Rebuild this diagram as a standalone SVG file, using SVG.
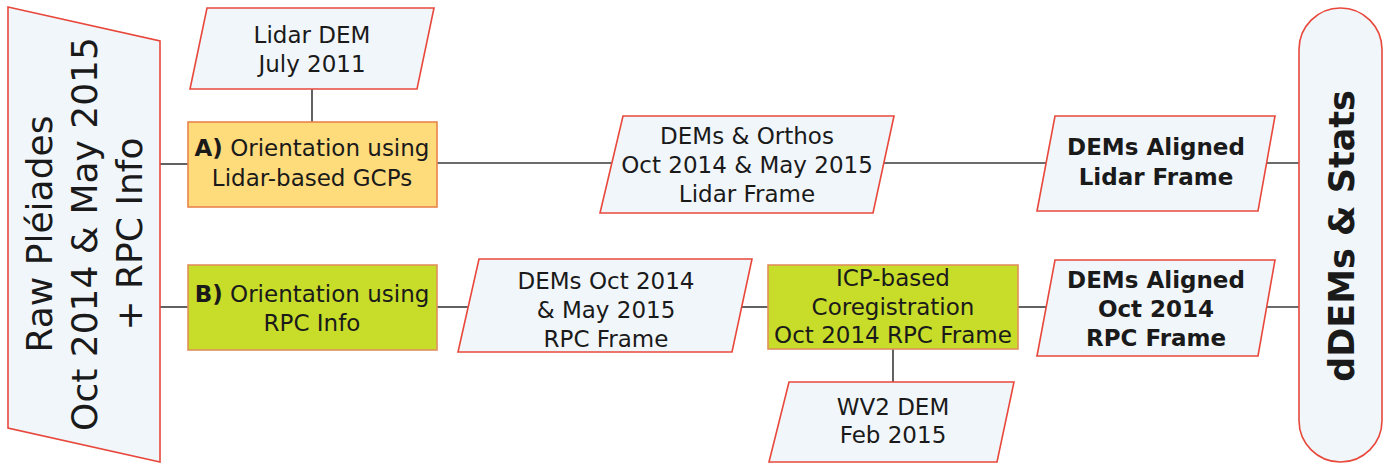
<svg xmlns="http://www.w3.org/2000/svg" width="1389" height="466" viewBox="0 0 1389 466">
<style>
.data{fill:#f1f6fa;stroke:#e8483c;stroke-width:1.6}
.boxA{fill:#fedc7c;stroke:#e8844c;stroke-width:1.6}
.boxB{fill:#c8dc2a;stroke:#e0905a;stroke-width:1.6}
.t{font-family:"DejaVu Sans","Verdana",sans-serif;font-size:23px;fill:#1a1a1a;text-anchor:middle}
.b{font-weight:bold}
.big{font-size:36px}
.conn line{stroke:#3a3a3a;stroke-width:1.6}
</style>
<rect width="1389" height="466" fill="#ffffff"/>
<g class="conn" id="connectors">
<line x1="160" y1="164" x2="188" y2="164"/>
<line x1="160" y1="307" x2="188" y2="307"/>
<line x1="312" y1="89" x2="312" y2="122"/>
<line x1="437" y1="163" x2="612" y2="163"/>
<line x1="884" y1="163" x2="1046" y2="163"/>
<line x1="1267" y1="163" x2="1300" y2="163"/>
<line x1="437" y1="307" x2="469" y2="307"/>
<line x1="742" y1="307" x2="768" y2="307"/>
<line x1="1018" y1="307" x2="1046" y2="307"/>
<line x1="1267" y1="307" x2="1300" y2="307"/>
<line x1="893" y1="349" x2="893" y2="382"/>
</g>
<g id="raw">
<polygon class="data" points="8,7 160,41 160,462 8,428"/>
<text class="t big" transform="translate(52,234) rotate(-90)"><tspan x="0" y="0">Raw Pléiades</tspan><tspan x="0" dy="45">Oct 2014 &amp; May 2015</tspan><tspan x="0" dy="45">+ RPC Info</tspan></text>
</g>
<g id="lidar-dem">
<polygon class="data" points="207,8 434,8 417,89 190,89"/>
<text class="t"><tspan x="312" y="43">Lidar DEM</tspan><tspan x="312" y="72">July 2011</tspan></text>
</g>
<g id="orient-a">
<rect class="boxA" x="188" y="122" width="249" height="85"/>
<text class="t"><tspan x="312" y="156"><tspan class="b">A)</tspan> Orientation using</tspan><tspan x="312" y="186">Lidar-based GCPs</tspan></text>
</g>
<g id="orient-b">
<rect class="boxB" x="188" y="265" width="249" height="85"/>
<text class="t"><tspan x="312" y="302"><tspan class="b">B)</tspan> Orientation using</tspan><tspan x="312" y="331">RPC Info</tspan></text>
</g>
<g id="dems-orthos">
<polygon class="data" points="623,116 894,116 873,213 600,213"/>
<text class="t"><tspan x="747" y="144">DEMs &amp; Orthos</tspan><tspan x="747" y="173">Oct 2014 &amp; May 2015</tspan><tspan x="747" y="202">Lidar Frame</tspan></text>
</g>
<g id="dems-rpc">
<polygon class="data" points="479,259 752,259 732,352 458,352"/>
<text class="t"><tspan x="606" y="289">DEMs Oct 2014</tspan><tspan x="606" y="318">&amp; May 2015</tspan><tspan x="606" y="347">RPC Frame</tspan></text>
</g>
<g id="icp">
<rect class="boxB" x="768" y="265" width="250" height="84"/>
<text class="t"><tspan x="893" y="286">ICP-based</tspan><tspan x="893" y="315">Coregistration</tspan><tspan x="893" y="343">Oct 2014 RPC Frame</tspan></text>
</g>
<g id="wv2">
<polygon class="data" points="789,382 1014,382 997,462 769,462"/>
<text class="t"><tspan x="893" y="415">WV2 DEM</tspan><tspan x="893" y="443">Feb 2015</tspan></text>
</g>
<g id="aligned-lidar">
<polygon class="data" points="1055,116 1275,116 1258,211 1037,211"/>
<text class="t b"><tspan x="1156" y="155">DEMs Aligned</tspan><tspan x="1156" y="185">Lidar Frame</tspan></text>
</g>
<g id="aligned-rpc">
<polygon class="data" points="1055,260 1275,260 1258,356 1037,356"/>
<text class="t b"><tspan x="1156" y="288">DEMs Aligned</tspan><tspan x="1156" y="317">Oct 2014</tspan><tspan x="1156" y="346">RPC Frame</tspan></text>
</g>
<g id="ddems">
<rect class="data" x="1299" y="8" width="83" height="454" rx="41.5" ry="41.5"/>
<text class="t b" style="font-size:35px" transform="translate(1354,236) rotate(-90)">dDEMs &amp; Stats</text>
</g>
</svg>
